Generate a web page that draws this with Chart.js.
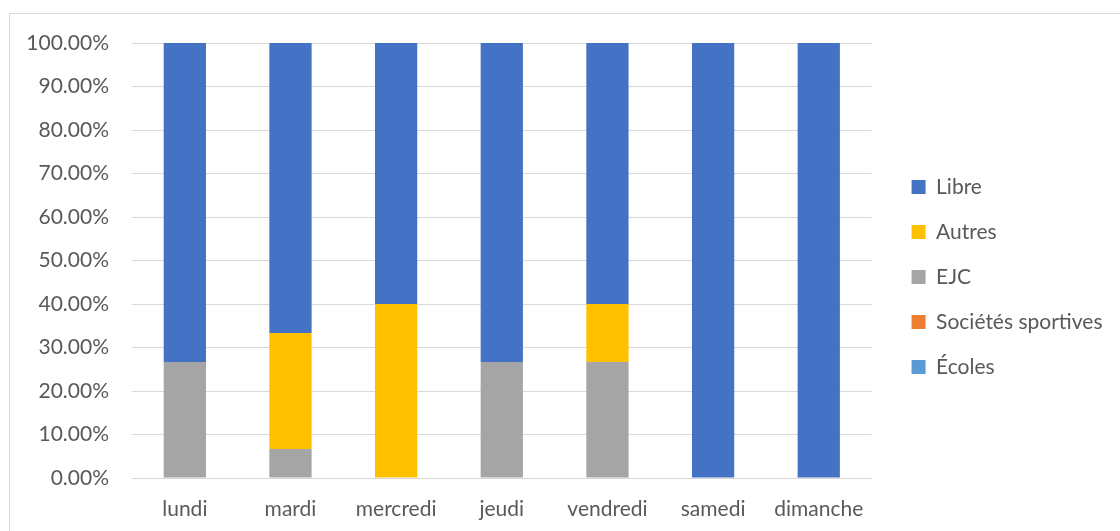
<!DOCTYPE html>
<html>
<head>
<meta charset="utf-8">
<script src="https://cdn.jsdelivr.net/npm/chart.js@4"></script>
<style>
  html, body { margin: 0; padding: 0; background: #fff; }
  #wrap { position: relative; width: 1120px; height: 531px; }
  #frame { position: absolute; left: 9px; top: 13px; width: 1200px; height: 600px;
           border-left: 1px solid #d9d9d9; border-top: 1px solid #d9d9d9; }
  #Chart1 { position: absolute; left: 0; top: 0; }
</style>
</head>
<body>
<div id="wrap">
  <div id="frame"></div>
  <canvas id="Chart1" width="1120" height="531"></canvas>
</div>
<script>
const jours = ['lundi', 'mardi', 'mercredi', 'jeudi', 'vendredi', 'samedi', 'dimanche'];

// parts en %, du bas vers le haut de la pile
const ecoles = [0, 0, 0, 0, 0, 0, 0];
const societes = [0, 0, 0, 0, 0, 0, 0];
const ejc = [26.67, 6.67, 0, 26.67, 26.67, 0, 0];
const autres = [0, 26.67, 40, 0, 13.33, 0, 0];
const libre = [73.33, 66.67, 60, 73.33, 60, 100, 100];

const legendShift = { dx: 16, dy: -10 };

function GenerateChart1() {

    const ctx = document.getElementById('Chart1');

    new Chart(ctx, {
        type: 'bar',
        data: {
            labels: jours,
            datasets: [
                { label: 'Écoles', data: ecoles, backgroundColor: '#5B9BD5' },
                { label: 'Sociétés sportives', data: societes, backgroundColor: '#ED7D31' },
                { label: 'EJC', data: ejc, backgroundColor: '#A5A5A5' },
                { label: 'Autres', data: autres, backgroundColor: '#FFC000' },
                { label: 'Libre', data: libre, backgroundColor: '#4472C4' }
            ]
        },
        options: {
            responsive: false,
            animation: false,
            datasets: {
                bar: {
                    categoryPercentage: 1,
                    barPercentage: 0.4,
                    borderWidth: 0
                }
            },
            layout: {
                padding: { top: 43, right: 23.5, bottom: 0, left: 0 }
            },
            font: { family: 'Lato', size: 21 },
            color: '#595959',
            scales: {
                x: {
                    stacked: true,
                    grid: { display: false, drawTicks: false },
                    border: { color: '#d9d9d9', width: 1 },
                    ticks: { color: '#595959', padding: 19, font: { family: 'Lato', size: 21 } },
                    afterFit: (scale) => { scale.height = 53; }
                },
                y: {
                    stacked: true,
                    min: 0,
                    max: 100,
                    grid: { color: '#d9d9d9', drawTicks: false },
                    border: { display: false },
                    ticks: {
                        stepSize: 10,
                        padding: 23,
                        color: '#595959',
                        font: { family: 'Lato', size: 21 },
                        callback: (v) => v.toFixed(2) + '%'
                    },
                    afterFit: (scale) => { scale.width = 132; }
                }
            },
            plugins: {
                tooltip: { enabled: false },
                legend: {
                    position: 'right',
                    reverse: true,
                    labels: {
                        boxWidth: 14,
                        boxHeight: 14,
                        padding: 24,
                        color: '#595959',
                        font: { family: 'Lato', size: 21, lineHeight: 1.2 }
                    }
                }
            }
        },
        plugins: [{
            id: 'moveLegend',
            afterUpdate(chart) {
                const lg = chart.legend;
                lg.left += legendShift.dx; lg.right += legendShift.dx;
                lg.top += legendShift.dy; lg.bottom += legendShift.dy;
            }
        }]
    });
}

GenerateChart1();
</script>
</body>
</html>
